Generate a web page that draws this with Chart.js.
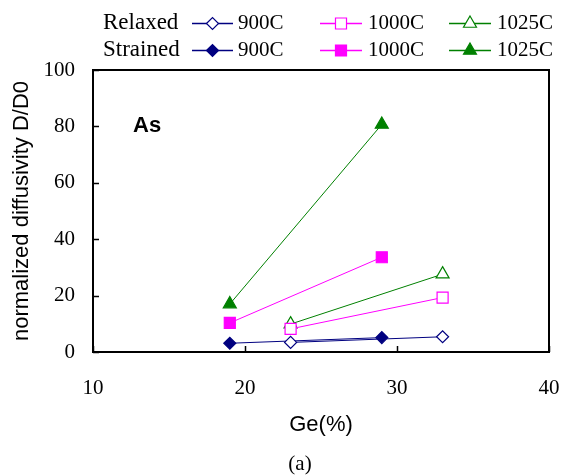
<!DOCTYPE html>
<html>
<head>
<meta charset="utf-8">
<script src="https://cdn.jsdelivr.net/npm/chart.js@4.4.0/dist/chart.umd.min.js"></script>
<style>
  html, body { margin: 0; padding: 0; background: #fff; }
  #wrap { width: 565px; height: 476px; }
</style>
</head>
<body>
<div id="wrap"><canvas id="canvas-1"></canvas></div>
<script>
// Ge content of the samples
var relaxedGe = [23, 33];
var strainedGe = [19, 29];

// normalized diffusivity D/D0
var relaxed900 = [3.4, 5.4];
var strained900 = [3.1, 5.1];
var relaxed1000 = [8.2, 19.3];
var strained1000 = [10.3, 33.6];
var relaxed1025 = [9.9, 27.6];
var strained1025 = [17, 80.7];

var xTicks = [10, 20, 30, 40];
var yTicks = [0, 20, 40, 60, 80, 100];
var temps = ['900C', '1000C', '1025C'];
var rowLabels = ['Relaxed', 'Strained'];

var navy = '#000080', magenta = '#ff00ff', green = '#008000';

function pts(xs, ys) {
  return xs.map(function (x, i) { return { x: x, y: ys[i] }; });
}

function series(label, xs, ys, color, style, radius, filled) {
  return {
    label: label,
    data: pts(xs, ys),
    showLine: true,
    borderColor: color,
    borderWidth: 1,
    backgroundColor: filled ? color : '#fff',
    pointBorderColor: color,
    pointBackgroundColor: filled ? color : '#fff',
    pointBorderWidth: 1.2,
    pointStyle: style,
    pointRadius: radius,
    pointHoverRadius: radius
  };
}

var datasets = [
  series('Relaxed 900C', relaxedGe, relaxed900, navy, 'rectRot', 6, false),
  series('Relaxed 1000C', relaxedGe, relaxed1000, magenta, 'rect', 7.8, false),
  series('Relaxed 1025C', relaxedGe, relaxed1025, green, 'triangle', 7.5, false),
  series('Strained 900C', strainedGe, strained900, navy, 'rectRot', 6, true),
  series('Strained 1000C', strainedGe, strained1000, magenta, 'rect', 7.8, true),
  series('Strained 1025C', strainedGe, strained1025, green, 'triangle', 7.5, true)
];

var serif = 'Liberation Serif, Times New Roman, serif';
var sans = 'Liberation Sans, Arial, sans-serif';

// frame, inner ticks, labels and the two-row legend
var extras = {
  id: 'extras',
  beforeDatasetsDraw: function (chart) {
    var ctx = chart.ctx, a = chart.chartArea;
    var xs = chart.scales.x, ys = chart.scales.y;
    ctx.save();
    ctx.strokeStyle = '#000';
    ctx.lineWidth = 1.5;
    ctx.beginPath();
    xTicks.forEach(function (v) {
      var px = Math.round(xs.getPixelForValue(v)) + 0.5;
      ctx.moveTo(px, a.bottom);
      ctx.lineTo(px, a.bottom - 6);
    });
    yTicks.forEach(function (v) {
      var py = Math.round(ys.getPixelForValue(v)) + 0.5;
      ctx.moveTo(a.left, py);
      ctx.lineTo(a.left + 6, py);
    });
    ctx.stroke();
    ctx.lineWidth = 2;
    ctx.strokeRect(a.left, a.top, a.right - a.left, a.bottom - a.top);
    ctx.restore();
  },
  afterDraw: function (chart) {
    var ctx = chart.ctx, a = chart.chartArea;
    ctx.save();
    ctx.fillStyle = '#000';
    ctx.textBaseline = 'middle';

    ctx.font = 'bold 22px ' + sans;
    ctx.textAlign = 'left';
    ctx.fillText('As', 133, 126);

    ctx.font = '21px ' + serif;
    ctx.textAlign = 'center';
    ctx.fillText('(a)', 300, 464);

    // legend
    var rowY = [23, 50];
    var lineX = [[192, 233], [320, 362], [449, 491]];
    var textX = [238, 368, 497];
    var colors = [navy, magenta, green];
    var styles = ['rectRot', 'rect', 'triangle'];
    var radii = [6, 7.8, 7.5];
    for (var r = 0; r < 2; r++) {
      ctx.font = '23px ' + serif;
      ctx.textAlign = 'left';
      ctx.fillStyle = '#000';
      ctx.fillText(rowLabels[r], 103, rowY[r]);
      for (var c = 0; c < 3; c++) {
        var y = rowY[r] + 0.5;
        ctx.strokeStyle = colors[c];
        ctx.lineWidth = 1.5;
        ctx.beginPath();
        ctx.moveTo(lineX[c][0], y);
        ctx.lineTo(lineX[c][1], y);
        ctx.stroke();
        ctx.fillStyle = r === 0 ? '#fff' : colors[c];
        ctx.lineWidth = 1.2;
        Chart.helpers.drawPoint(ctx, {
          pointStyle: styles[c], radius: radii[c], rotation: 0, borderWidth: 1.2
        }, (lineX[c][0] + lineX[c][1]) / 2, y);
        ctx.fillStyle = '#000';
        ctx.font = '21px ' + serif;
        ctx.fillText(temps[c], textX[c], rowY[r]);
      }
    }
    ctx.restore();
  }
};

var ctx = document.getElementById('canvas-1');
var chart = new Chart(ctx, {
  type: 'scatter',
  data: { datasets: datasets },
  plugins: [extras],
  options: {
    responsive: true,
    maintainAspectRatio: false,
    animation: false,
    layout: { padding: { top: 70, right: 16, left: 0, bottom: 0 } },
    plugins: {
      legend: { display: false },
      tooltip: { enabled: false }
    },
    scales: {
      x: {
        type: 'linear',
        min: 10,
        max: 40,
        afterFit: function (scale) {
          scale.height = 124;
          scale.paddingLeft = 0;
          scale.paddingRight = 0;
        },
        grid: { display: false, drawTicks: false },
        border: { display: false },
        ticks: { stepSize: 10, padding: 24, color: '#000', font: { family: serif, size: 21 } },
        title: { display: true, text: 'Ge(%)', color: '#000', padding: { top: 0, bottom: 38 }, font: { family: sans, size: 22 } }
      },
      y: {
        min: 0,
        max: 100,
        afterFit: function (scale) {
          scale.width = 93;
          scale.paddingTop = 0;
          scale.paddingBottom = 0;
        },
        grid: { display: false, drawTicks: false },
        border: { display: false },
        ticks: { stepSize: 20, padding: 18, color: '#000', font: { family: serif, size: 21 } },
        title: { display: true, text: 'normalized diffusivity D/D0', color: '#000', padding: { top: 9, bottom: 0 }, font: { family: sans, size: 22 } }
      }
    }
  }
});
</script>
</body>
</html>
